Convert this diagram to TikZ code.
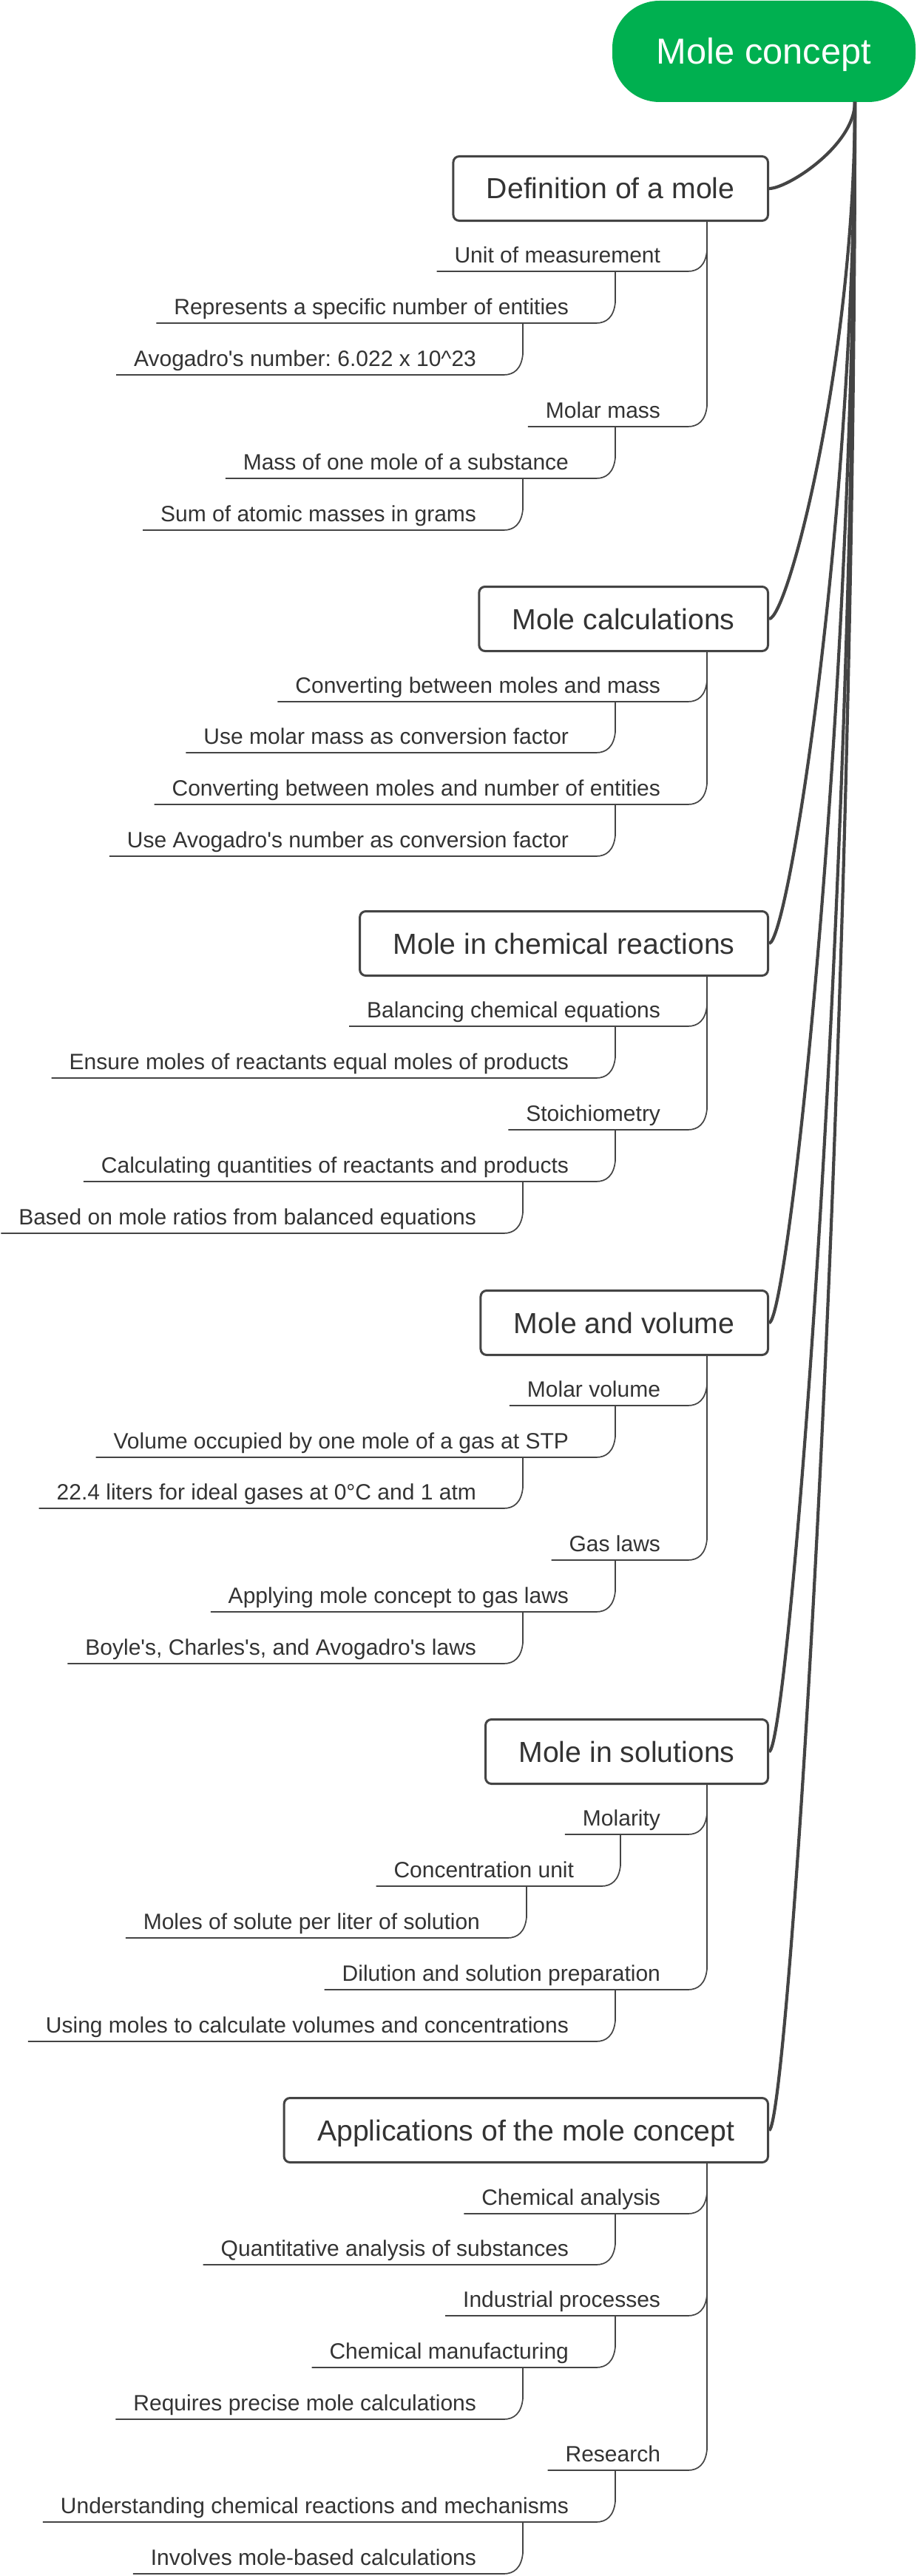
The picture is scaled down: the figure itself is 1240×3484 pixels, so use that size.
\documentclass[tikz,border=0pt]{standalone}
\usepackage{fontspec}
\setmainfont{Liberation Sans}[Ligatures=TeXOff]
\frenchspacing
\usepackage{tikz}
\usetikzlibrary{calc}
\definecolor{rootgreen}{RGB}{0,176,80}
\definecolor{linegray}{RGB}{68,68,68}
\definecolor{inkgray}{RGB}{51,51,51}
\tikzstyle{root}=[%
      rectangle, rounded corners=32pt, fill=rootgreen, text=white,
      font=\fontsize{24.4}{29}\selectfont, minimum width=205pt, minimum height=68.5pt,
      text height=17.5pt, text depth=0pt, inner sep=0pt
]
\tikzstyle{topic}=[%
      rectangle, rounded corners=4pt, draw=linegray, line width=1.5pt, fill=white, text=inkgray,
      font=\fontsize{19.6}{24}\selectfont, minimum height=43.5pt, inner xsep=22.5pt,
      text height=14pt, text depth=0pt, anchor=east
]
\tikzstyle{leaf}=[%
      text=inkgray, font=\fontsize{15}{18}\selectfont, inner xsep=12pt, inner ysep=6pt,
      text height=11pt, text depth=0pt, outer sep=0pt, anchor=south east
]
\tikzstyle{limb}=[%
      draw=linegray, line width=2.1pt,
      to path={let \p1=(\tikztostart), \p2=(\tikztotarget) in
        .. controls (\x1,{0.5*(\y1+\y2)}) and (\x2+12.5pt,\y2) .. (\p2)}
]
\tikzstyle{twig}=[%
      draw=linegray, line width=0.85pt,
      to path={let \p1=(\tikztotarget.south east), \p2=(\tikztostart.south) in
        (\x1+19.5pt,\y2) -- (\x1+19.5pt,\y1+14pt)
        .. controls (\x1+18.5pt,\y1+4pt) and (\x1+13.5pt,\y1) .. (\x1+6.5pt,\y1)
        -- (\tikztotarget.south west)}
]
\begin{document}
\begin{tikzpicture}[x=0.5pt, y=-0.5pt]
    \useasboundingbox (0,0) rectangle (1240,3484);

    \node[root] (mole) at (1033,69.5) {Mole concept};
    \coordinate (hub) at (1156,138);

    % Definition of a mole
    \node[topic] (def)   at (1040,255) {Definition of a mole};
    \node[leaf]  (unit)  at (917,367)  {Unit of measurement};
    \node[leaf]  (repr)  at (793,437)  {Represents a specific number of entities};
    \node[leaf]  (avog)  at (668,507)  {Avogadro's number: 6.022 x 10\textasciicircum 23};
    \node[leaf]  (molm)  at (917,577)  {Molar mass};
    \node[leaf]  (mone)  at (793,647)  {Mass of one mole of a substance};
    \node[leaf]  (atom)  at (668,717)  {Sum of atomic masses in grams};

    % Mole calculations
    \node[topic] (calcs) at (1040,837) {Mole calculations};
    \node[leaf]  (cvmass) at (917,949)  {Converting between moles and mass};
    \node[leaf]  (usemm)  at (793,1018) {Use molar mass as conversion factor};
    \node[leaf]  (cvnum)  at (917,1088) {Converting between moles and number of entities};
    \node[leaf]  (useav)  at (793,1158) {Use Avogadro's number as conversion factor};

    % Mole in chemical reactions
    \node[topic] (react) at (1040,1276) {Mole in chemical reactions};
    \node[leaf]  (bal)   at (917,1388) {Balancing chemical equations};
    \node[leaf]  (ens)   at (793,1458) {Ensure moles of reactants equal moles of products};
    \node[leaf]  (stoi)  at (917,1528) {Stoichiometry};
    \node[leaf]  (quant) at (793,1598) {Calculating quantities of reactants and products};
    \node[leaf]  (ratio) at (668,1668) {Based on mole ratios from balanced equations};

    % Mole and volume
    \node[topic] (vol)   at (1040,1789) {Mole and volume};
    \node[leaf]  (mvol)  at (917,1901) {Molar volume};
    \node[leaf]  (vocc)  at (793,1971) {Volume occupied by one mole of a gas at STP};
    \node[leaf]  (lit)   at (668,2040) {22.4 liters for ideal gases at 0°C and 1 atm};
    \node[leaf]  (gas)   at (917,2110) {Gas laws};
    \node[leaf]  (apply) at (793,2180) {Applying mole concept to gas laws};
    \node[leaf]  (boyle) at (668,2250) {Boyle's, Charles's, and Avogadro's laws};

    % Mole in solutions
    \node[topic] (sol)    at (1040,2369) {Mole in solutions};
    \node[leaf]  (molar)  at (917,2481) {Molarity};
    \node[leaf]  (conc)   at (800,2551) {Concentration unit};
    \node[leaf]  (solute) at (673,2621) {Moles of solute per liter of solution};
    \node[leaf]  (dil)    at (917,2691) {Dilution and solution preparation};
    \node[leaf]  (usemol) at (793,2761) {Using moles to calculate volumes and concentrations};

    % Applications of the mole concept
    \node[topic] (appl)  at (1040,2881) {Applications of the mole concept};
    \node[leaf]  (chan)  at (917,2994) {Chemical analysis};
    \node[leaf]  (qana)  at (793,3063) {Quantitative analysis of substances};
    \node[leaf]  (indus) at (917,3132) {Industrial processes};
    \node[leaf]  (manu)  at (793,3202) {Chemical manufacturing};
    \node[leaf]  (prec)  at (668,3272) {Requires precise mole calculations};
    \node[leaf]  (rsch)  at (917,3341) {Research};
    \node[leaf]  (under) at (793,3411) {Understanding chemical reactions and mechanisms};
    \node[leaf]  (invo)  at (668,3481) {Involves mole-based calculations};

    \path (hub) edge[limb] (def.east)
          (hub) edge[limb] (calcs.east)
          (hub) edge[limb] (react.east)
          (hub) edge[limb] (vol.east)
          (hub) edge[limb] (sol.east)
          (hub) edge[limb] (appl.east)
    ;
    \path (def) edge[twig] (unit)
          (unit) edge[twig] (repr)
          (repr) edge[twig] (avog)
          (def) edge[twig] (molm)
          (molm) edge[twig] (mone)
          (mone) edge[twig] (atom)
          (calcs) edge[twig] (cvmass)
          (cvmass) edge[twig] (usemm)
          (calcs) edge[twig] (cvnum)
          (cvnum) edge[twig] (useav)
          (react) edge[twig] (bal)
          (bal) edge[twig] (ens)
          (react) edge[twig] (stoi)
          (stoi) edge[twig] (quant)
          (quant) edge[twig] (ratio)
          (vol) edge[twig] (mvol)
          (mvol) edge[twig] (vocc)
          (vocc) edge[twig] (lit)
          (vol) edge[twig] (gas)
          (gas) edge[twig] (apply)
          (apply) edge[twig] (boyle)
          (sol) edge[twig] (molar)
          (molar) edge[twig] (conc)
          (conc) edge[twig] (solute)
          (sol) edge[twig] (dil)
          (dil) edge[twig] (usemol)
          (appl) edge[twig] (chan)
          (chan) edge[twig] (qana)
          (appl) edge[twig] (indus)
          (indus) edge[twig] (manu)
          (manu) edge[twig] (prec)
          (appl) edge[twig] (rsch)
          (rsch) edge[twig] (under)
          (under) edge[twig] (invo)
    ;
\end{tikzpicture}
\end{document}
